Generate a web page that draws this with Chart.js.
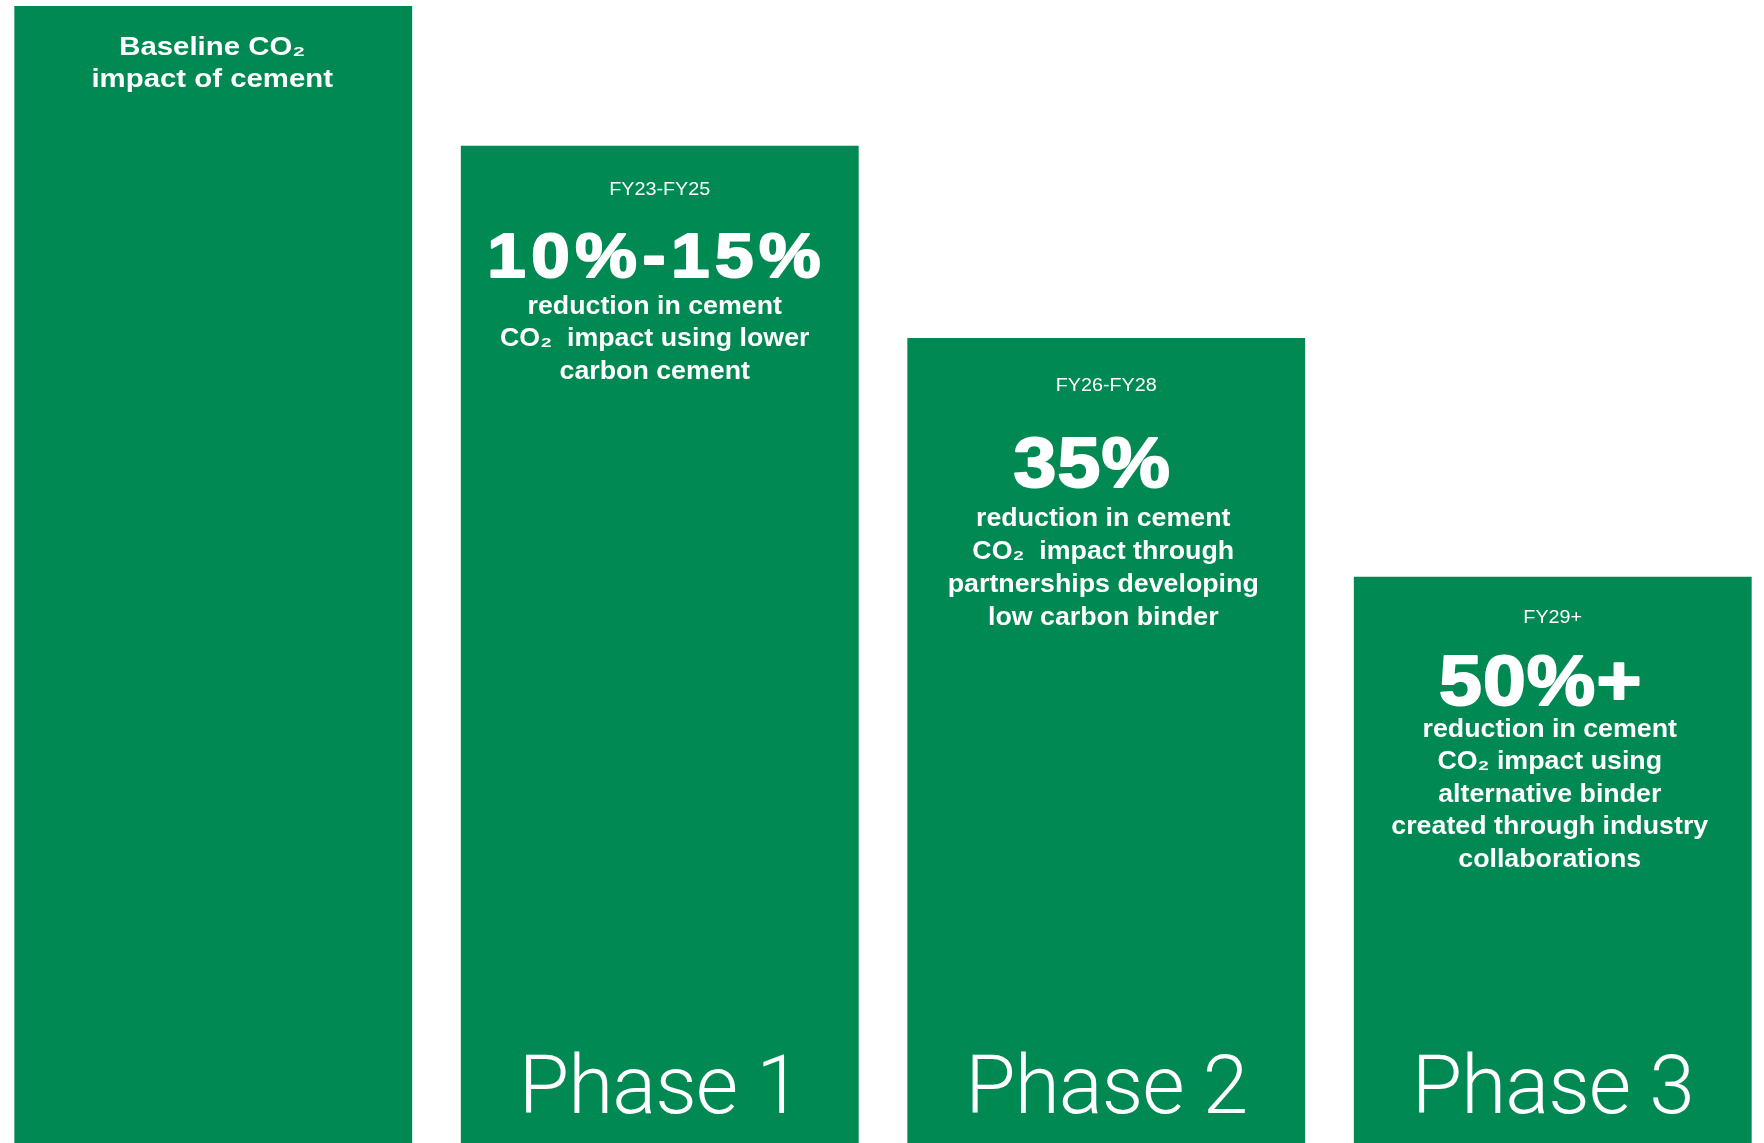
<!DOCTYPE html>
<html>
<head>
<meta charset="utf-8">
<title>Cement CO2 reduction roadmap</title>
<script src="https://cdn.jsdelivr.net/npm/chart.js@4.4.1/dist/chart.umd.min.js"></script>
<style>
  html, body { margin: 0; padding: 0; background: #ffffff; overflow: hidden; }
  #wrap { position: absolute; left: -10px; top: 0; width: 1786px; height: 1143px; }
</style>
</head>
<body>
<div id="wrap"><canvas id="roadmapChart" width="1786" height="1143"></canvas></div>
<script>
// Relative cement CO2 impact per stage (baseline = 100)
const phaseLabels = ['', 'Phase 1', 'Phase 2', 'Phase 3'];
const co2Index = [100, 87.7, 70.8, 49.8];
const periods = ['', 'FY23-FY25', 'FY26-FY28', 'FY29+'];
const headlines = ['', '10%-15%', '35%', '50%+'];
const descriptions = [
  ['Baseline CO₂', 'impact of cement'],
  ['reduction in cement', 'CO₂  impact using lower', 'carbon cement'],
  ['reduction in cement', 'CO₂  impact through', 'partnerships developing', 'low carbon binder'],
  ['reduction in cement', 'CO₂ impact using', 'alternative binder', 'created through industry', 'collaborations']
];

const GREEN = '#008952';

// Text placement inside each bar, offsets measured from the bar top
const textLayout = [
  { bodyTop: 49, lineH: 32, bodyDx: -1, bodySx: 1.13 },
  { periodTop: 49, headTop: 131, headSize: 63, headSpacing: 5, headDx: -3, bodyTop: 168, lineH: 32.5, bodyDx: -5, bodySx: 1.03 },
  { periodTop: 53, headTop: 149, headSize: 70, headSpacing: 1, headDx: -14, bodyTop: 188, lineH: 33, bodyDx: -3, bodySx: 1.03 },
  { periodTop: 46, headTop: 128, headSize: 70, headSpacing: 1, headDx: -12, bodyTop: 160, lineH: 32.5, bodyDx: -3, bodySx: 1.03 }
];

function drawStretched(ctx, text, x, y, sx) {
  ctx.save();
  ctx.translate(x, y);
  ctx.scale(sx, 1);
  ctx.fillText(text, 0, 0);
  ctx.restore();
}

const barTextPlugin = {
  id: 'barText',
  afterDatasetsDraw(chart) {
    const ctx = chart.ctx;
    const bars = chart.getDatasetMeta(0).data;
    ctx.save();
    ctx.fillStyle = '#ffffff';
    ctx.textAlign = 'center';
    ctx.textBaseline = 'alphabetic';

    bars.forEach((bar, i) => {
      const lay = textLayout[i];
      const x = bar.x;
      const top = bar.y;

      // period label
      if (periods[i]) {
        ctx.font = '17.5px "Liberation Sans", Arial, sans-serif';
        ctx.letterSpacing = '0px';
        drawStretched(ctx, periods[i], x, top + lay.periodTop, 1.13);
      }

      // headline percentage
      if (headlines[i]) {
        ctx.save();
        ctx.font = 'bold ' + lay.headSize + 'px "Liberation Sans", Arial, sans-serif';
        ctx.letterSpacing = lay.headSpacing + 'px';
        ctx.strokeStyle = '#ffffff';
        ctx.lineWidth = 2;
        ctx.lineJoin = 'round';
        ctx.translate(x + lay.headDx, top + lay.headTop);
        ctx.scale(1.1, 1);
        ctx.fillText(headlines[i], 0, 0);
        ctx.strokeText(headlines[i], 0, 0);
        ctx.restore();
      }

      // description lines
      ctx.font = 'bold 26px "Liberation Sans", Arial, sans-serif';
      ctx.letterSpacing = '0px';
      descriptions[i].forEach((line, j) => {
        drawStretched(ctx, line, x + lay.bodyDx, top + lay.bodyTop + j * lay.lineH, lay.bodySx);
      });

      // phase name near the bottom
      if (phaseLabels[i]) {
        ctx.font = '300 82px Roboto, "Liberation Sans", sans-serif';
        ctx.letterSpacing = '-1px';
        ctx.fillText(phaseLabels[i], x, chart.chartArea.bottom - 30);
      }
    });
    ctx.restore();
  }
};

new Chart(document.getElementById('roadmapChart'), {
  type: 'bar',
  data: {
    labels: phaseLabels,
    datasets: [{
      data: co2Index,
      backgroundColor: GREEN,
      borderWidth: 0,
      barPercentage: 0.891,
      categoryPercentage: 1
    }]
  },
  options: {
    responsive: false,
    animation: false,
    devicePixelRatio: 1,
    layout: { padding: { top: 6, bottom: 0, left: 0, right: 0 } },
    plugins: {
      legend: { display: false },
      tooltip: { enabled: false }
    },
    scales: {
      x: { display: false },
      y: { display: false, min: 0, max: 100 }
    }
  },
  plugins: [barTextPlugin]
});
</script>
</body>
</html>
